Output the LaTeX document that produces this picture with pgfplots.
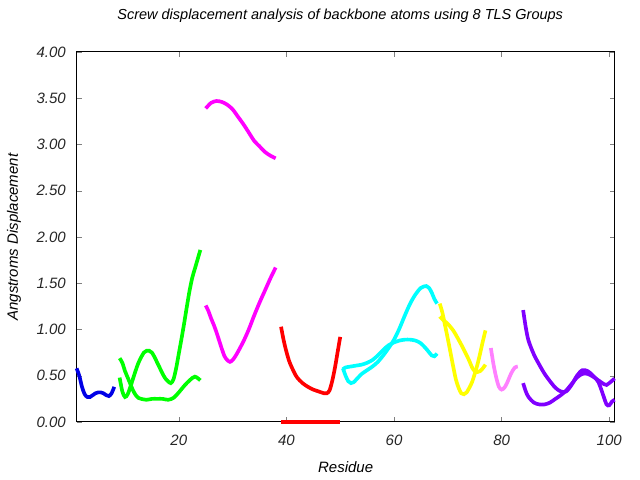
\documentclass[border=0pt]{standalone}
\usepackage{pgfplots}
\pgfplotsset{compat=1.18}
\usepackage{fontspec}
\setmainfont{Liberation Sans}
\definecolor{cblue}{RGB}{0,0,230}
\definecolor{cgreen}{RGB}{0,255,0}
\definecolor{cmag}{RGB}{255,0,255}
\definecolor{cred}{RGB}{255,0,0}
\definecolor{ccyan}{RGB}{0,255,255}
\definecolor{cyel}{RGB}{255,255,0}
\definecolor{cpink}{RGB}{255,128,255}
\definecolor{cpurp}{RGB}{128,0,255}
\begin{document}
\begin{tikzpicture}
\path[use as bounding box] (-45.96pt,-34.8pt) rectangle (338.04pt,253.2pt);
\begin{axis}[
  at={(0,0)}, anchor=south west,
  scale only axis, width=322.8pt, height=222pt,
  xmin=1, xmax=101, ymin=0, ymax=4,
  xtick={20,40,60,80,100},
  ytick={0,0.5,1,1.5,2,2.5,3,3.5,4},
  yticklabel style={/pgf/number format/fixed,/pgf/number format/fixed zerofill,/pgf/number format/precision=2, xshift=-3pt},
  xticklabel style={yshift=-4pt},
  /pgf/number format/assume math mode=true,
  tick label style={font=\itshape\small, text=black!85},
  tick align=inside, major tick length=3pt,
  axis line style={line width=0.6pt},
  title={Screw displacement analysis of backbone atoms using 8 TLS Groups},
  title style={at={(axis description cs:0.49,1.0703)}, anchor=center, font=\itshape\fontsize{8.7}{10}\selectfont},
  xlabel={Residue},
  xlabel style={at={(axis description cs:0.5,-0.1216)}, anchor=center, font=\itshape\small},
  ylabel={Angstroms Displacement},
  ylabel style={at={(axis description cs:-0.1165,0.5)}, anchor=center, font=\itshape\small},
  every axis plot/.append style={line width=2.2pt, no markers, smooth, tension=0.5},
  clip=false,
]
\addplot[cblue] coordinates {(1,0.58) (1.5,0.50) (2,0.38) (2.5,0.30) (3,0.27) (3.5,0.27) (4,0.29) (4.5,0.31) (5,0.32) (5.5,0.32) (6,0.31) (6.5,0.29) (7,0.28) (7.5,0.31) (8,0.38)};
\addplot[cgreen] coordinates {(9,0.69) (9.5,0.64) (10,0.55) (10.5,0.48) (11,0.41) (11.5,0.34) (12,0.29) (12.5,0.26) (13,0.25) (14,0.24) (15,0.25) (16,0.25) (17,0.25) (18,0.24) (19,0.26) (20,0.32) (21,0.39) (22,0.45) (23,0.49) (24,0.45)};
\addplot[cgreen] coordinates {(9,0.48) (9.5,0.33) (10,0.27) (10.5,0.30) (11,0.38) (11.5,0.47) (12,0.56) (12.5,0.64) (13,0.70) (13.5,0.75) (14,0.77) (14.5,0.77) (15,0.75) (15.5,0.70) (16,0.64) (16.5,0.58) (17,0.52) (17.5,0.47) (18,0.44) (18.5,0.42) (19,0.46) (19.5,0.58) (20,0.74) (20.5,0.90) (21,1.07) (21.5,1.25) (22,1.42) (22.5,1.56) (23,1.66) (23.5,1.76) (24,1.86)};
\addplot[cmag] coordinates {(25,1.26) (25.5,1.20) (26,1.12) (26.5,1.05) (27,0.97) (27.5,0.88) (28,0.79) (28.5,0.71) (29,0.67) (29.5,0.65) (30,0.67) (30.5,0.71) (31,0.76) (32,0.87) (33,1.0) (34,1.15) (35,1.29) (36,1.42) (37,1.55) (38,1.67)};
\addplot[cmag] coordinates {(25,3.39) (26,3.45) (27,3.47) (28,3.46) (29,3.43) (30,3.38) (31,3.30) (32,3.22) (33,3.13) (34,3.04) (35,2.98) (36,2.92) (37,2.88) (38,2.85)};
\addplot[cred] coordinates {(39,1.03) (39.5,0.88) (40,0.76) (40.5,0.66) (41,0.59) (41.5,0.53) (42,0.48) (43,0.42) (44,0.38) (45,0.35) (46,0.33) (47,0.31) (47.5,0.31) (48,0.34) (48.5,0.44) (49,0.58) (49.5,0.75) (50,0.92)};
\addplot[cred, sharp plot] coordinates {(39,0) (50,0)};
\addplot[ccyan] coordinates {(50.5,0.58) (51,0.50) (51.5,0.44) (52,0.42) (52.5,0.43) (53,0.46) (54,0.52) (55,0.56) (56,0.60) (57,0.65) (58,0.72) (59,0.80) (60,0.89) (61,1.01) (62,1.15) (63,1.28) (64,1.38) (65,1.45) (66,1.47) (66.5,1.45) (67,1.40) (67.5,1.33) (68,1.28)};
\addplot[ccyan] coordinates {(50.5,0.57) (51,0.59) (52,0.60) (53,0.61) (54,0.62) (55,0.64) (56,0.67) (57,0.72) (58,0.78) (59,0.83) (60,0.86) (61,0.88) (62,0.89) (63,0.89) (64,0.88) (65,0.85) (66,0.79) (67,0.72) (67.5,0.71) (68,0.74)};
\addplot[cyel] coordinates {(68.5,1.28) (69,1.18) (69.5,1.04) (70,0.90) (70.5,0.75) (71,0.60) (71.5,0.46) (72,0.37) (72.5,0.31) (73,0.30) (73.5,0.32) (74,0.37) (74.5,0.43) (75,0.52) (75.5,0.62) (76,0.74) (76.5,0.87) (77,0.99)};
\addplot[cyel] coordinates {(68.5,1.14) (69,1.11) (70,1.06) (71,0.99) (72,0.89) (73,0.78) (74,0.66) (74.5,0.59) (75,0.55) (75.5,0.54) (76,0.55) (76.5,0.58) (77,0.62)};
\addplot[cpink] coordinates {(78,0.80) (78.5,0.62) (79,0.48) (79.5,0.38) (80,0.35) (80.5,0.37) (81,0.42) (81.5,0.49) (82,0.55) (82.5,0.59) (83,0.60)};
\addplot[cpurp] coordinates {(84,1.21) (84.5,1.02) (85,0.88) (86,0.73) (87,0.62) (88,0.52) (89,0.44) (90,0.37) (91,0.33) (92,0.33) (93,0.40) (94,0.50) (95,0.56) (96,0.55) (97,0.50) (98,0.43) (99,0.27) (99.5,0.19) (100,0.18) (100.5,0.22) (101,0.24)};
\addplot[cpurp] coordinates {(84,0.42) (84.5,0.33) (85,0.27) (86,0.21) (87,0.19) (88,0.19) (89,0.21) (90,0.25) (91,0.29) (92,0.34) (93,0.41) (94,0.48) (95,0.52) (96,0.52) (97,0.49) (98,0.45) (99,0.41) (99.5,0.40) (100,0.42) (101,0.47)};
\end{axis}
\end{tikzpicture}
\end{document}
